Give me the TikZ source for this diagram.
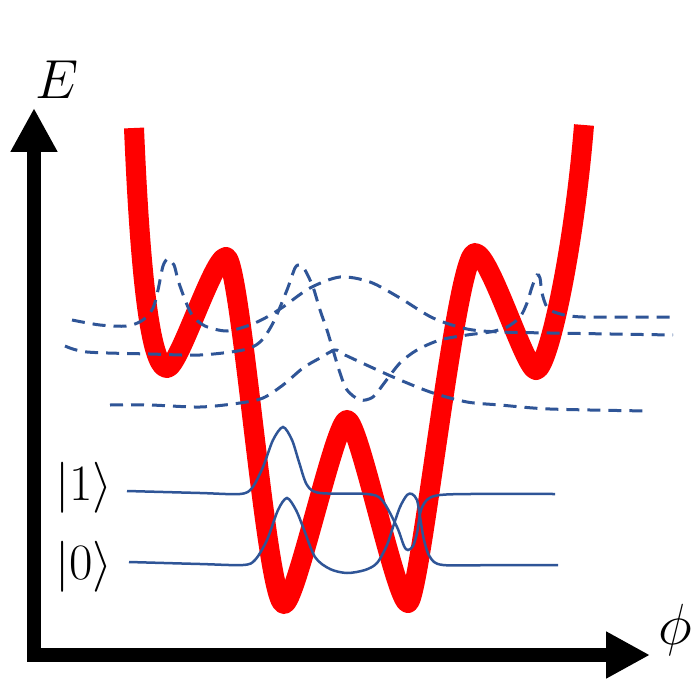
\RequirePackage{fix-cm}
\documentclass[tikz,border=0pt]{standalone}
\usetikzlibrary{arrows.meta}
\definecolor{wblue}{RGB}{47,85,151}
\definecolor{potred}{RGB}{255,0,0}
\tikzset{
  axis/.style={line width=14pt, line join=miter,
    {Triangle[length=44pt,width=44pt]}-{Triangle[length=44pt,width=44pt]}},
  pot/.style={line width=20pt, potred, line join=round},
  excited/.style={line width=3pt, wblue, dash pattern=on 13pt off 8pt},
  ground/.style={line width=2.5pt, wblue},
  lab/.style={inner sep=0pt, anchor=center},
}
\begin{document}
\begin{tikzpicture}[x=1pt, y=-1pt]
\useasboundingbox (0,0) rectangle (700,700);
% potential
\coordinate (p0) at (134,128);
\coordinate (m1) at (167,368);
\coordinate (x1) at (226,257);
\coordinate (m2) at (284,604);
\coordinate (x2) at (347,420);
\coordinate (m3) at (408,603);
\coordinate (x3) at (475,253);
\coordinate (m4) at (536,370);
\coordinate (p1) at (584,125);
\draw[pot] (p0)
  .. controls (142,320) and (155,368) .. (m1)
  .. controls (179,368) and (213,257) .. (x1)
  .. controls (241,257) and (266,604) .. (m2)
  .. controls (296,604) and (335,420) .. (x2)
  .. controls (359,420) and (396,603) .. (m3)
  .. controls (420,603) and (456,253) .. (x3)
  .. controls (490,253) and (525,370) .. (m4)
  .. controls (548,370) and (574,250) .. (p1);
% excited states (dashed)
\draw[excited] plot[smooth, tension=0.5] coordinates {
 (72,320) (100,325) (127,326) (143,320) (153,308) (158,290) (163,266) (168,259)
 (174,265) (178,280) (184,297) (192,315) (205,326) (227,331) (250,325) (267,317)
 (283,307) (310,288) (340,277) (370,282) (400,298) (433,318) (467,329) (500,332)
 (550,333) (673,335)};
\draw[excited] plot[smooth, tension=0.5] coordinates {
 (65,346) (87,352) (150,354) (200,355) (243,350) (260,342) (273,323) (287,290)
 (295,268) (300,265) (305,270) (313,287) (320,310) (327,330) (333,350) (340,373)
 (347,390) (360,400) (373,397) (385,382) (400,363) (417,350) (440,340) (467,335)
 (490,332) (507,327) (520,317) (527,303) (532,287) (537,275) (540,278) (542,293)
 (547,307) (557,313) (583,317) (673,317)};
\draw[excited] plot[smooth, tension=0.5] coordinates {
 (110,405) (150,405) (200,407) (240,403) (263,398) (283,385) (303,368) (320,358)
 (335,350) (345,355) (373,368) (400,380) (433,393) (467,402) (500,405) (550,409)
 (648,411)};
% |1> and |0>
\draw[ground] plot[smooth, tension=0.5] coordinates {
 (127,491) (200,493) (240,494) (252,488) (263,467) (273,440) (283,427) (292,440)
 (299,462) (307,485) (320,493) (367,494) (382,500) (397,527) (404,546) (408,550)
 (413,546) (417,533) (421,510) (428,499) (440,495) (470,494) (555,494)};
\draw[ground] plot[smooth, tension=0.5] coordinates {
 (129,562) (200,564) (243,565) (255,560) (267,540) (278,510) (287,498) (296,510)
 (303,527) (315,557) (330,569) (347,573) (365,570) (377,563) (387,545) (393,527)
 (400,507) (407,495) (412,494) (417,500) (420,517) (424,540) (430,557) (443,565)
 (500,565) (558,565)};
% axes
\coordinate (Ytip) at (34,108);
\coordinate (Xtip) at (650,655);
\draw[axis] (Ytip) |- (Xtip);
% labels
\node[lab] (E) at (57,80) {\fontsize{55}{60}\selectfont$E$};
\node[lab] (phi) at (675,630) {\fontsize{58}{62}\selectfont$\phi$};
\node[lab] (k1) at (84,488) {\fontsize{51}{56}\selectfont$|1\rangle$};
\node[lab] (k0) at (84,567) {\fontsize{51}{56}\selectfont$|0\rangle$};
\end{tikzpicture}
\end{document}
